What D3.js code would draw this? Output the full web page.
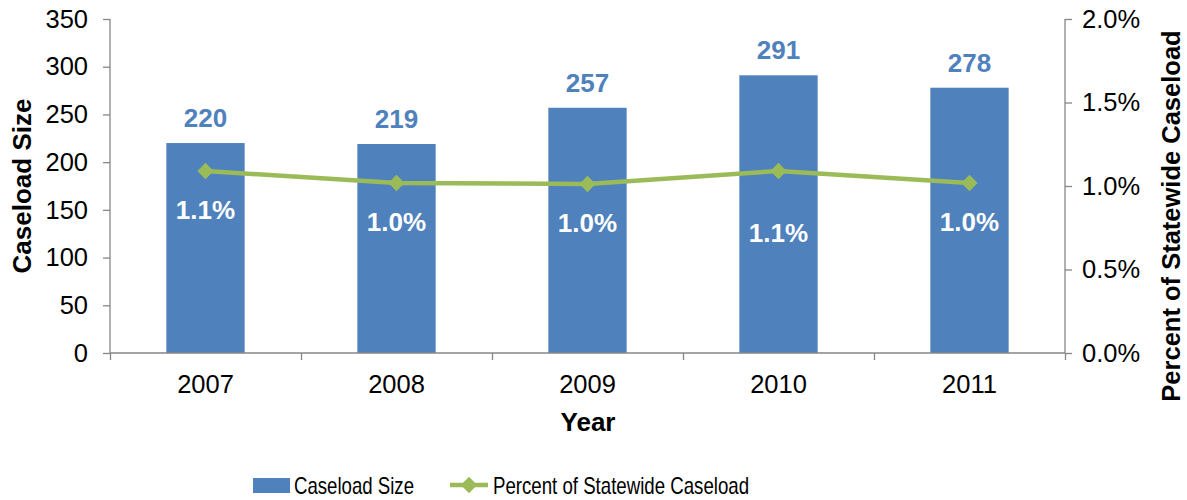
<!DOCTYPE html>
<html><head><meta charset="utf-8">
<script src="https://cdn.jsdelivr.net/npm/d3@7"></script>
<style>body{margin:0;background:#fff}svg{display:block;font-family:"Liberation Sans",Arial,sans-serif}</style>
</head><body><svg id="c" width="1187" height="500"></svg>
<script>
const years = ["2007","2008","2009","2010","2011"];
const caseload = [220, 219, 257, 291, 278];
const percent = [1.09, 1.018, 1.012, 1.09, 1.018];
const percentLabels = ["1.1%","1.0%","1.0%","1.1%","1.0%"];
const leftTicks = [0,50,100,150,200,250,300,350];
const rightTicks = [0,0.5,1.0,1.5,2.0];

const svg = d3.select("#c");
const L = 110, R = 1065, T = 19, B = 353;
const x = d3.scaleBand().domain(years).range([L, R]).paddingInner(0.59).paddingOuter(0.295);
const y = d3.scaleLinear().domain([0,350]).range([B, T]);
const y2 = d3.scaleLinear().domain([0,2]).range([B, T]);
const axisColor = "#868686";
const blue = "#4f81bd", green = "#9bbb59";
const FS = 25.5;

// bars
svg.selectAll("rect.bar").data(caseload).join("rect").attr("class","bar")
  .attr("x",(d,i)=>x(years[i])).attr("width",x.bandwidth())
  .attr("y",d=>y(d)).attr("height",d=>B-y(d)).attr("fill",blue);

// axes
const gl = svg.append("g").attr("transform",`translate(${L},0)`)
  .call(d3.axisLeft(y).tickValues(leftTicks).tickSize(7).tickPadding(15));
const gr = svg.append("g").attr("transform",`translate(${R},0)`)
  .call(d3.axisRight(y2).tickValues(rightTicks).tickSize(7).tickPadding(10).tickFormat(d=>d3.format(".1f")(d)+"%"));
const xb = d3.scaleLinear().domain([0,years.length]).range([L,R]);
const gb = svg.append("g").attr("transform",`translate(0,${B})`)
  .call(d3.axisBottom(xb).tickValues(d3.range(years.length+1)).tickSize(7).tickFormat(""));
[gl,gr,gb].forEach(g=>{
  g.selectAll("path").attr("stroke",axisColor).attr("stroke-width",1.3);
  g.selectAll("line").attr("stroke",axisColor).attr("stroke-width",1.3);
  g.selectAll("text").attr("font-size",FS).attr("fill","#000").attr("font-family","Liberation Sans, Arial, sans-serif");
});
gl.select("path.domain").attr("d",`M0,${T}V${B}`);
gr.select("path.domain").attr("d",`M0,${T}V${B}`);
gb.select("path.domain").attr("d",`M${L},0H${R}`);

// x labels
svg.selectAll("text.xl").data(years).join("text").attr("class","xl")
  .attr("x",d=>x(d)+x.bandwidth()/2).attr("y",393).attr("text-anchor","middle")
  .attr("font-size",FS).text(d=>d);

// line
const cx = (i)=>x(years[i])+x.bandwidth()/2;
svg.append("path").datum(percent)
  .attr("d",d3.line().x((d,i)=>cx(i)).y(d=>y2(d)))
  .attr("fill","none").attr("stroke",green).attr("stroke-width",4.5);
const diamond = d3.symbol().type(d3.symbolDiamond2).size(170);
svg.selectAll("path.mk").data(percent).join("path").attr("class","mk")
  .attr("d",diamond).attr("transform",(d,i)=>`translate(${cx(i)},${y2(d)})`).attr("fill",green);

// value labels
svg.selectAll("text.vl").data(caseload).join("text").attr("class","vl")
  .attr("x",(d,i)=>cx(i)).attr("y",d=>y(d)-16).attr("text-anchor","middle")
  .attr("font-size",26).attr("font-weight","bold").attr("fill",blue).text(d=>d);

const labelDy = [48.5, 48.5, 48.5, 71.5, 48.5];
svg.selectAll("text.pl").data(percent).join("text").attr("class","pl")
  .attr("x",(d,i)=>cx(i)).attr("y",(d,i)=>y2(d)+labelDy[i]).attr("text-anchor","middle")
  .attr("font-size",26).attr("font-weight","bold").attr("fill","#fff").text((d,i)=>percentLabels[i]);

// titles
svg.append("text").attr("transform","translate(31,186) rotate(-90)").attr("text-anchor","middle")
  .attr("font-size",26).attr("font-weight","bold").text("Caseload Size");
svg.append("text").attr("transform","translate(1180,216) rotate(-90)").attr("text-anchor","middle")
  .attr("font-size",25.5).attr("font-weight","bold").text("Percent of Statewide Caseload");
svg.append("text").attr("x",588).attr("y",431).attr("text-anchor","middle")
  .attr("font-size",26).attr("font-weight","bold").text("Year");

// legend
svg.append("rect").attr("x",253).attr("y",478).attr("width",37).attr("height",15).attr("fill",blue);
svg.append("text").attr("x",294).attr("y",494).attr("font-size",24)
  .attr("textLength",120).attr("lengthAdjust","spacingAndGlyphs").text("Caseload Size");
svg.append("line").attr("x1",450).attr("x2",488).attr("y1",485).attr("y2",485).attr("stroke",green).attr("stroke-width",4.5);
svg.append("path").attr("d",diamond).attr("transform","translate(469,485)").attr("fill",green);
svg.append("text").attr("x",493).attr("y",494).attr("font-size",24)
  .attr("textLength",256).attr("lengthAdjust","spacingAndGlyphs").text("Percent of Statewide Caseload");
</script></body></html>
